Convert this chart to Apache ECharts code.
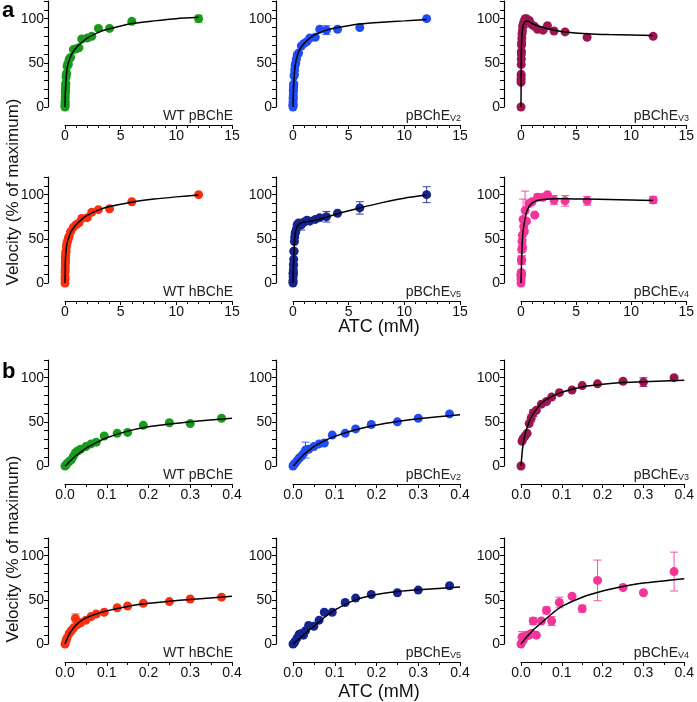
<!DOCTYPE html>
<html>
<head>
<meta charset="utf-8">
<script src="https://cdn.jsdelivr.net/npm/echarts@6/dist/echarts.min.js"></script>
<style>
html, body { margin: 0; padding: 0; background: #fff; }
#chart { width: 697px; height: 702px; }
</style>
</head>
<body>
<div id="chart"></div>
<script>
// substrate concentrations (mM)
const lowConc = [0, 0.0025, 0.005, 0.01, 0.015, 0.02, 0.025, 0.03, 0.0375, 0.05, 0.0625, 0.075, 0.094, 0.125, 0.15, 0.1875, 0.25, 0.3, 0.375];
const highConc = [0.5, 0.75, 1, 1.25, 1.5, 2, 2.4, 3, 4, 6, 12];
const curveLowX = [0, 0.0025, 0.005, 0.01, 0.02, 0.03, 0.05, 0.075, 0.1, 0.15, 0.2, 0.25, 0.3, 0.4];
const curveHighX = [0, 0.025, 0.05, 0.1, 0.2, 0.375, 0.5, 0.75, 1, 1.5, 2, 3, 4, 6, 8, 10, 12];

const xTicksA = [0, 5, 10, 15];
const xTicksB = [0, 0.1, 0.2, 0.3, 0.4];
const yTicks = [0, 50, 100];

// WT pBChE
const wtpLow = [0, 1, 3, 5, 7, 11, 15, 17, 19, 22, 25, 27, 34, 37, 38, 46, 49, 48, 54];
const wtpHigh = [56, 65, 66, 67, 77, 78, 80, 89, 89, 97, 100];
const wtpLowErr = [];
const wtpHighErr = [0, 0, 0, 0, 0, 0, 0, 0, 0, 0, 4];
const wtpCurveLow = [0, 1, 2, 4.5, 9, 13, 20, 26.5, 32, 39.5, 44.5, 47.5, 50, 54];
const wtpCurveHigh = [0, 15, 20, 32, 44.5, 53, 57, 63, 67, 73, 78, 84.5, 88.5, 94.5, 97.5, 100, 101.5];

// pBChE V2
const v2Low = [0, 2, 3, 6, 9, 11, 14, 18, 19, 22, 25, 26, 35, 37, 42, 47, 50, 54, 59];
const v2High = [61, 69, 72, 74, 78, 79, 88, 87, 88, 90, 100];
const v2LowErr = [0, 0, 0, 0, 0, 0, 0, 9];
const v2HighErr = [0, 0, 0, 0, 0, 0, 0, 5];
const v2CurveLow = [0, 1, 2, 5, 10, 14.5, 22, 28.5, 33.5, 41, 46.5, 50.5, 53.5, 58];
const v2CurveHigh = [0, 14, 22, 33.5, 47, 57.5, 62, 68, 72, 78, 82, 87, 90, 94, 96, 97.5, 99];

// pBChE V3
const v3Low = [0, 28, 31, 34, 37, 48, 54, 60, 63, 70, 73, 78, 83, 86, 91, 93, 96, 95, 100];
const v3High = [100, 98, 93, 91, 88, 87, 92, 86, 85, 79, 80];
const v3LowErr = [0, 0, 0, 0, 0, 0, 4, 4, 0, 0, 0, 0, 0, 0, 0, 0, 0, 5];
const v3HighErr = [];
const v3CurveLow = [0, 14, 24, 36, 50, 59, 71, 78.5, 83.5, 89.5, 92.5, 94.5, 95.5, 97];
const v3CurveHigh = [0, 56, 71, 83.5, 92.5, 96.5, 97.5, 96.5, 94.5, 92, 90, 87, 85, 83, 82, 81.5, 81];

// WT hBChE
const wthLow = [0, 4, 7, 12, 15, 18, 29, 22, 24, 27, 31, 34, 36, 41, 43, 46, 48, 51, 53];
const wthHigh = [58, 63, 66, 68, 73, 74, 80, 83, 84, 92, 100];
const wthLowErr = [0, 0, 0, 0, 0, 0, 5];
const wthHighErr = [];
const wthCurveLow = [0, 3, 6, 11, 18, 23, 29.5, 34, 37.5, 42.5, 46, 48.5, 50.5, 54];
const wthCurveHigh = [0, 20, 29.5, 37.5, 46, 53, 57, 62, 66, 72, 76.5, 82.5, 86.5, 91.5, 95, 97.5, 99.5];

// pBChE V5
const v5Low = [0, 1, 3, 7, 11, 12, 10, 15, 21, 20, 27, 36, 36, 47, 52, 56, 58, 61, 66];
const v5High = [68, 66, 69, 71, 70, 72, 74, 75, 79, 85, 100];
const v5LowErr = [];
const v5HighErr = [0, 6, 0, 0, 0, 0, 0, 6, 0, 7, 9];
const v5CurveLow = [0, 1, 2, 4, 8, 12.5, 20, 30, 38.5, 50, 56, 59.5, 61.5, 64.5];
const v5CurveHigh = [0, 10, 20, 38.5, 56, 64, 66, 68, 69, 70, 71, 74.5, 78.5, 85, 91, 96, 99.5];

// pBChE V4
const v4Low = [0, 8, 4, 8, 10, 10, 12, 26, 10, 26, 38, 26, 47, 54, 40, 72, 64, 58, 82];
const v4High = [70, 90, 92, 77, 97, 97, 100, 94, 93, 93, 94];
const v4LowErr = [0, 6, 0, 0, 3, 0, 0, 4, 0, 0, 4, 5, 6, 0, 4, 23, 0, 0, 22];
const v4HighErr = [0, 0, 0, 0, 4, 0, 0, 5, 6, 5, 4];
const v4CurveLow = [0, 1.5, 3, 6, 11, 16, 24, 34, 42.5, 53, 60, 65, 69, 74];
const v4CurveHigh = [0, 12, 24, 43, 60, 73, 80, 87, 90.5, 93.5, 94.5, 95.5, 95.5, 95, 94.5, 94, 93.5];

const enzymes = [
  { name: 'WT pBChE', sub: '', color: '#179b1b', low: wtpLow, high: wtpHigh, lowErr: wtpLowErr, highErr: wtpHighErr, cLow: wtpCurveLow, cHigh: wtpCurveHigh },
  { name: 'pBChE', sub: 'V2', color: '#1f4cf5', low: v2Low, high: v2High, lowErr: v2LowErr, highErr: v2HighErr, cLow: v2CurveLow, cHigh: v2CurveHigh },
  { name: 'pBChE', sub: 'V3', color: '#9c1552', low: v3Low, high: v3High, lowErr: v3LowErr, highErr: v3HighErr, cLow: v3CurveLow, cHigh: v3CurveHigh },
  { name: 'WT hBChE', sub: '', color: '#f8300f', low: wthLow, high: wthHigh, lowErr: wthLowErr, highErr: wthHighErr, cLow: wthCurveLow, cHigh: wthCurveHigh },
  { name: 'pBChE', sub: 'V5', color: '#16248f', low: v5Low, high: v5High, lowErr: v5LowErr, highErr: v5HighErr, cLow: v5CurveLow, cHigh: v5CurveHigh },
  { name: 'pBChE', sub: 'V4', color: '#f5349a', low: v4Low, high: v4High, lowErr: v4LowErr, highErr: v4HighErr, cLow: v4CurveLow, cHigh: v4CurveHigh }
];

const FONT = 'Liberation Sans, Arial, sans-serif';
const colLeft = [65, 293, 521];
const rowTop = [1, 177, 360, 538];
const plotW = 167, plotH = 106;

const chart = echarts.init(document.getElementById('chart'));

const grids = [], xAxes = [], yAxes = [], series = [], titles = [];

function errorSeries(data, color, idx) {
  return {
    type: 'custom',
    xAxisIndex: idx, yAxisIndex: idx,
    data: data,
    z: 1,
    renderItem: function (params, api) {
      const x = api.value(0), y = api.value(1), e = api.value(2);
      const hi = api.coord([x, y + e]);
      const lo = api.coord([x, y - e]);
      const style = { stroke: color, lineWidth: 1, opacity: 0.85 };
      return {
        type: 'group',
        children: [
          { type: 'line', shape: { x1: hi[0], y1: hi[1], x2: lo[0], y2: lo[1] }, style: style },
          { type: 'line', shape: { x1: hi[0] - 4, y1: hi[1], x2: hi[0] + 4, y2: hi[1] }, style: style },
          { type: 'line', shape: { x1: lo[0] - 4, y1: lo[1], x2: lo[0] + 4, y2: lo[1] }, style: style }
        ]
      };
    }
  };
}

for (let p = 0; p < 12; p++) {
  const e = enzymes[p % 6];
  const isA = p < 6;
  const r = Math.floor(p / 3), c = p % 3;

  grids.push({ left: colLeft[c], top: rowTop[r], width: plotW, height: plotH });

  const xTicks = isA ? xTicksA : xTicksB;
  xAxes.push({
    gridIndex: p, type: 'value',
    min: xTicks[0], max: xTicks[xTicks.length - 1],
    interval: xTicks[1] - xTicks[0],
    offset: 18,
    splitLine: { show: false },
    axisLine: { show: true, onZero: false, lineStyle: { color: '#000', width: 1.2 } },
    axisTick: { show: true, length: 4, lineStyle: { color: '#000', width: 1 } },
    minorTick: { show: true, splitNumber: isA ? 5 : 2, length: 3, lineStyle: { color: '#000', width: 1 } },
    axisLabel: {
      color: '#111', fontSize: 14, fontFamily: FONT, margin: 4,
      formatter: v => isA ? String(Math.round(v)) : v.toFixed(1)
    }
  });

  yAxes.push({
    gridIndex: p, type: 'value',
    min: 0, max: 120, interval: 10,
    offset: 17,
    splitLine: { show: false },
    axisLine: { show: true, onZero: false, lineStyle: { color: '#000', width: 1.2 } },
    axisTick: { show: true, length: 4, lineStyle: { color: '#000', width: 1 } },
    axisLabel: {
      color: '#111', fontSize: 14, fontFamily: FONT, margin: 4,
      formatter: v => yTicks.indexOf(Math.round(v)) >= 0 ? String(Math.round(v)) : ''
    }
  });

  let pts, errs, curve;
  if (isA) {
    pts = lowConc.map((x, i) => [x, e.low[i]]).concat(highConc.map((x, i) => [x, e.high[i]]));
    errs = lowConc.map((x, i) => [x, e.low[i], e.lowErr[i] || 0])
      .concat(highConc.map((x, i) => [x, e.high[i], e.highErr[i] || 0]));
    curve = curveHighX.map((x, i) => [x, e.cHigh[i]]);
  } else {
    pts = lowConc.map((x, i) => [x, e.low[i]]);
    errs = lowConc.map((x, i) => [x, e.low[i], e.lowErr[i] || 0]);
    curve = curveLowX.map((x, i) => [x, e.cLow[i]]);
  }
  errs = errs.filter(d => d[2] > 0);

  if (errs.length) series.push(errorSeries(errs, e.color, p));
  series.push({
    type: 'scatter', xAxisIndex: p, yAxisIndex: p,
    data: pts, symbol: 'circle', symbolSize: 9, z: 2,
    itemStyle: { color: e.color, opacity: 1 },
    clip: false
  });
  series.push({
    type: 'line', xAxisIndex: p, yAxisIndex: p,
    data: curve, showSymbol: false, smooth: 0.2, z: 3,
    lineStyle: { color: '#000', width: 1.5 }
  });

  titles.push({
    text: e.sub ? '{n|' + e.name + '}{s|' + e.sub + '}' : '{n|' + e.name + '}',
    right: 697 - (colLeft[c] + plotW) - 1,
    top: rowTop[r] + plotH + 1,
    padding: 0,
    textStyle: {
      fontWeight: 'normal',
      rich: {
        n: { fontSize: 14, fontFamily: FONT, fontWeight: 'normal', color: '#222', verticalAlign: 'bottom', lineHeight: 15 },
        s: { fontSize: 9, fontFamily: FONT, fontWeight: 'normal', color: '#222', verticalAlign: 'bottom', lineHeight: 11 }
      }
    }
  });
}

const graphics = [
  { type: 'text', left: 2, top: 0, style: { text: 'a', font: 'bold 22px ' + FONT, fill: '#000' } },
  { type: 'text', left: 2, top: 361, style: { text: 'b', font: 'bold 22px ' + FONT, fill: '#000' } },
  { type: 'text', x: 13, y: 192, rotation: Math.PI / 2, style: { text: 'Velocity (% of maximum)', font: '17px ' + FONT, fill: '#111', align: 'center', verticalAlign: 'middle' } },
  { type: 'text', x: 13, y: 549, rotation: Math.PI / 2, style: { text: 'Velocity (% of maximum)', font: '17px ' + FONT, fill: '#111', align: 'center', verticalAlign: 'middle' } },
  { type: 'text', x: 379, y: 327, style: { text: 'ATC (mM)', font: '18px ' + FONT, fill: '#111', align: 'center', verticalAlign: 'middle' } },
  { type: 'text', x: 379, y: 692, style: { text: 'ATC (mM)', font: '18px ' + FONT, fill: '#111', align: 'center', verticalAlign: 'middle' } }
];

chart.setOption({
  animation: false,
  backgroundColor: '#fff',
  title: titles,
  grid: grids,
  xAxis: xAxes,
  yAxis: yAxes,
  series: series,
  graphic: graphics
});

window.addEventListener('resize', () => chart.resize());
</script>
</body>
</html>
